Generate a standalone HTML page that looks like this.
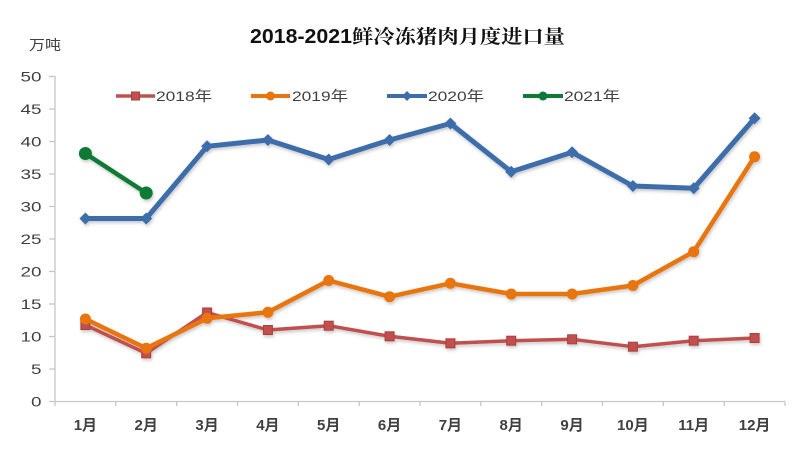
<!DOCTYPE html>
<html>
<head>
<meta charset="utf-8">
<style>
html,body{margin:0;padding:0;background:#fff;}
svg{display:block;}
</style>
</head>
<body>
<svg width="800" height="451" viewBox="0 0 800 451" xmlns="http://www.w3.org/2000/svg">
<defs>
<filter id="sh" x="-10%" y="-10%" width="120%" height="130%">
<feDropShadow dx="1" dy="2" stdDeviation="1.5" flood-color="#000" flood-opacity="0.22"/>
</filter>
</defs>
<rect width="800" height="451" fill="#fff"/>

<!-- title -->
<text x="250" y="43" font-family="Liberation Sans, sans-serif" font-weight="bold" font-size="20" fill="#111" textLength="102" lengthAdjust="spacingAndGlyphs">2018-2021</text>
<text x="352" y="43" font-family="Noto Serif CJK SC, serif" font-weight="bold" font-size="19" fill="#111" textLength="213" lengthAdjust="spacingAndGlyphs">鲜冷冻猪肉月度进口量</text>

<!-- unit -->
<text x="29" y="50" font-family="Liberation Sans, Noto Sans CJK SC, sans-serif" font-size="14" fill="#404040" textLength="32" lengthAdjust="spacingAndGlyphs">万吨</text>

<!-- axes -->
<g stroke="#c6c6c6" stroke-width="1.3" fill="none">
<line x1="55" y1="76" x2="55" y2="401.5"/>
<line x1="49" y1="401.5" x2="785" y2="401.5"/>
<line x1="49" y1="76.5" x2="55" y2="76.5"/>
<line x1="49" y1="109" x2="55" y2="109"/>
<line x1="49" y1="141.5" x2="55" y2="141.5"/>
<line x1="49" y1="174" x2="55" y2="174"/>
<line x1="49" y1="206.5" x2="55" y2="206.5"/>
<line x1="49" y1="239" x2="55" y2="239"/>
<line x1="49" y1="271.5" x2="55" y2="271.5"/>
<line x1="49" y1="304" x2="55" y2="304"/>
<line x1="49" y1="336.5" x2="55" y2="336.5"/>
<line x1="49" y1="369" x2="55" y2="369"/>
<line x1="55" y1="401.5" x2="55" y2="406"/>
<line x1="115.8" y1="401.5" x2="115.8" y2="406"/>
<line x1="176.7" y1="401.5" x2="176.7" y2="406"/>
<line x1="237.5" y1="401.5" x2="237.5" y2="406"/>
<line x1="298.3" y1="401.5" x2="298.3" y2="406"/>
<line x1="359.2" y1="401.5" x2="359.2" y2="406"/>
<line x1="420" y1="401.5" x2="420" y2="406"/>
<line x1="480.8" y1="401.5" x2="480.8" y2="406"/>
<line x1="541.7" y1="401.5" x2="541.7" y2="406"/>
<line x1="602.5" y1="401.5" x2="602.5" y2="406"/>
<line x1="663.3" y1="401.5" x2="663.3" y2="406"/>
<line x1="724.2" y1="401.5" x2="724.2" y2="406"/>
<line x1="785" y1="401.5" x2="785" y2="406"/>
</g>

<!-- y labels -->
<g font-family="Liberation Sans, sans-serif" font-size="14" fill="#404040" text-anchor="end">
<text x="41.5" y="81.5" textLength="21" lengthAdjust="spacingAndGlyphs">50</text>
<text x="41.5" y="114" textLength="21" lengthAdjust="spacingAndGlyphs">45</text>
<text x="41.5" y="146.5" textLength="21" lengthAdjust="spacingAndGlyphs">40</text>
<text x="41.5" y="179" textLength="21" lengthAdjust="spacingAndGlyphs">35</text>
<text x="41.5" y="211.5" textLength="21" lengthAdjust="spacingAndGlyphs">30</text>
<text x="41.5" y="244" textLength="21" lengthAdjust="spacingAndGlyphs">25</text>
<text x="41.5" y="276.5" textLength="21" lengthAdjust="spacingAndGlyphs">20</text>
<text x="41.5" y="309" textLength="21" lengthAdjust="spacingAndGlyphs">15</text>
<text x="41.5" y="341.5" textLength="21" lengthAdjust="spacingAndGlyphs">10</text>
<text x="41.5" y="374" textLength="10.5" lengthAdjust="spacingAndGlyphs">5</text>
<text x="41.5" y="406.5" textLength="10.5" lengthAdjust="spacingAndGlyphs">0</text>
</g>

<!-- x labels -->
<g font-family="Liberation Sans, Noto Sans CJK SC, sans-serif" font-size="15" font-weight="bold" fill="#404040" text-anchor="middle">
<text x="85.4" y="430">1月</text>
<text x="146.2" y="430">2月</text>
<text x="207.1" y="430">3月</text>
<text x="267.9" y="430">4月</text>
<text x="328.7" y="430">5月</text>
<text x="389.6" y="430">6月</text>
<text x="450.4" y="430">7月</text>
<text x="511.2" y="430">8月</text>
<text x="572.1" y="430">9月</text>
<text x="632.9" y="430">10月</text>
<text x="693.7" y="430">11月</text>
<text x="754.6" y="430">12月</text>
</g>

<!-- legend -->
<g font-family="Liberation Sans, Noto Sans CJK SC, sans-serif" font-size="14" fill="#404040">
<line x1="116" y1="96" x2="155" y2="96" stroke="#c0504d" stroke-width="3.5"/>
<rect x="131.5" y="92" width="8" height="8" fill="#c0504d" stroke="#a8403d" stroke-width="1"/>
<text x="156" y="101" textLength="56" lengthAdjust="spacingAndGlyphs">2018年</text>

<line x1="251" y1="96" x2="290" y2="96" stroke="#e8740f" stroke-width="4"/>
<circle cx="270.5" cy="96" r="4.5" fill="#e8740f"/>
<text x="292" y="101" textLength="56" lengthAdjust="spacingAndGlyphs">2019年</text>

<line x1="387" y1="96" x2="427" y2="96" stroke="#3e6dab" stroke-width="4"/>
<polygon points="407,91 412,96 407,101 402,96" fill="#3e6dab"/>
<text x="428" y="101" textLength="56" lengthAdjust="spacingAndGlyphs">2020年</text>

<line x1="523" y1="96" x2="563" y2="96" stroke="#0e7a35" stroke-width="4"/>
<circle cx="543" cy="96" r="4.5" fill="#0e7a35"/>
<text x="564" y="101" textLength="56" lengthAdjust="spacingAndGlyphs">2021年</text>
</g>

<!-- series -->
<g filter="url(#sh)">
<!-- 2018 -->
<polyline fill="none" stroke="#c0504d" stroke-width="3.5" stroke-linejoin="round"
 points="85.4,325 146.2,353.3 207.1,312.5 267.9,330 328.7,325.7 389.6,336.3 450.4,343.3 511.2,340.7 572.1,339.3 632.9,346.7 693.7,340.7 754.6,338"/>
<g fill="#c0504d" stroke="#a8403d" stroke-width="1">
<rect x="80.9" y="320.5" width="9" height="9"/>
<rect x="141.7" y="348.8" width="9" height="9"/>
<rect x="202.6" y="308" width="9" height="9"/>
<rect x="263.4" y="325.5" width="9" height="9"/>
<rect x="324.2" y="321.2" width="9" height="9"/>
<rect x="385.1" y="331.8" width="9" height="9"/>
<rect x="445.9" y="338.8" width="9" height="9"/>
<rect x="506.7" y="336.2" width="9" height="9"/>
<rect x="567.6" y="334.8" width="9" height="9"/>
<rect x="628.4" y="342.2" width="9" height="9"/>
<rect x="689.2" y="336.2" width="9" height="9"/>
<rect x="750.1" y="333.5" width="9" height="9"/>
</g>

<!-- 2019 -->
<polyline fill="none" stroke="#e8740f" stroke-width="4.5" stroke-linejoin="round"
 points="85.4,319 146.2,348.3 207.1,318.3 267.9,312.3 328.7,280.5 389.6,296.7 450.4,283.3 511.2,294 572.1,294 632.9,285.5 693.7,251.7 754.6,156.7"/>
<g fill="#e8740f">
<circle cx="85.4" cy="319" r="5.5"/>
<circle cx="146.2" cy="348.3" r="5.5"/>
<circle cx="207.1" cy="318.3" r="5.5"/>
<circle cx="267.9" cy="312.3" r="5.5"/>
<circle cx="328.7" cy="280.5" r="5.5"/>
<circle cx="389.6" cy="296.7" r="5.5"/>
<circle cx="450.4" cy="283.3" r="5.5"/>
<circle cx="511.2" cy="294" r="5.5"/>
<circle cx="572.1" cy="294" r="5.5"/>
<circle cx="632.9" cy="285.5" r="5.5"/>
<circle cx="693.7" cy="251.7" r="5.5"/>
<circle cx="754.6" cy="156.7" r="5.5"/>
</g>

<!-- 2020 -->
<polyline fill="none" stroke="#3e6dab" stroke-width="5" stroke-linejoin="round"
 points="85.4,218.5 146.2,218.5 207.1,146.3 267.9,140 328.7,159.5 389.6,140 450.4,123.5 511.2,171.7 572.1,152.3 632.9,186 693.7,188.3 754.6,118.3"/>
<g fill="#3e6dab">
<polygon points="85.4,212.5 91.4,218.5 85.4,224.5 79.4,218.5"/>
<polygon points="146.2,212.5 152.2,218.5 146.2,224.5 140.2,218.5"/>
<polygon points="207.1,140.3 213.1,146.3 207.1,152.3 201.1,146.3"/>
<polygon points="267.9,134 273.9,140 267.9,146 261.9,140"/>
<polygon points="328.7,153.5 334.7,159.5 328.7,165.5 322.7,159.5"/>
<polygon points="389.6,134 395.6,140 389.6,146 383.6,140"/>
<polygon points="450.4,117.5 456.4,123.5 450.4,129.5 444.4,123.5"/>
<polygon points="511.2,165.7 517.2,171.7 511.2,177.7 505.2,171.7"/>
<polygon points="572.1,146.3 578.1,152.3 572.1,158.3 566.1,152.3"/>
<polygon points="632.9,180 638.9,186 632.9,192 626.9,186"/>
<polygon points="693.7,182.3 699.7,188.3 693.7,194.3 687.7,188.3"/>
<polygon points="754.6,112.3 760.6,118.3 754.6,124.3 748.6,118.3"/>
</g>

<!-- 2021 -->
<line x1="85.4" y1="153.5" x2="146.2" y2="193" stroke="#0e7a35" stroke-width="4.5"/>
<circle cx="85.4" cy="153.5" r="6.5" fill="#0e7a35"/>
<circle cx="146.2" cy="193" r="6.5" fill="#0e7a35"/>
</g>
</svg>
</body>
</html>
